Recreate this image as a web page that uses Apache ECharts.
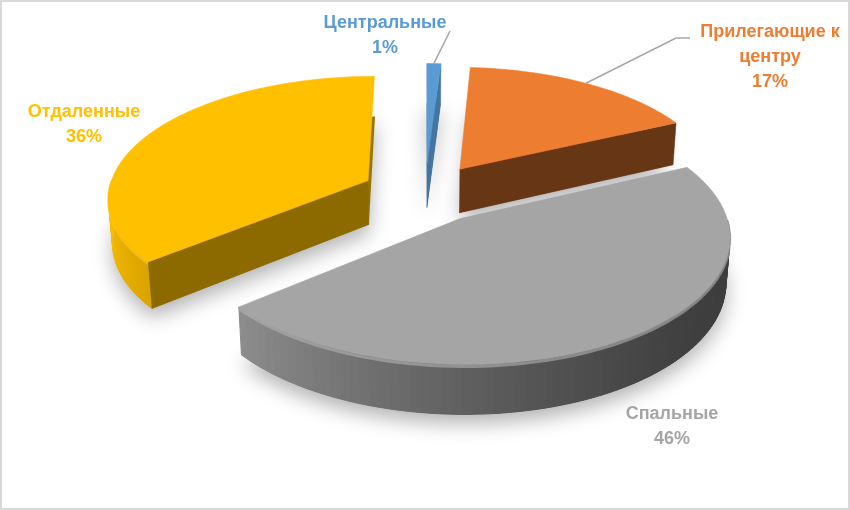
<!DOCTYPE html>
<html>
<head>
<meta charset="utf-8">
<script src="https://cdn.jsdelivr.net/npm/echarts@6.0.0/dist/echarts.min.js"></script>
<style>
  html, body { margin: 0; padding: 0; background: #fff; }
  #chart { width: 850px; height: 510px; }
</style>
</head>
<body>
<div id="chart"></div>
<script>
const categories = ['Центральные', 'Прилегающие к центру', 'Спальные', 'Отдаленные'];
const shares = [1, 17, 46, 36];
const colors = ['#5B9BD5', '#ED7D31', '#A5A5A5', '#FFC000'];

// camera of the pseudo-3D pie: screen centre/focal in px, rest in pie radii
const VIEW = { cx: 425, cy: 193, f: 1815, dist: 6.98, tilt: 27.6, thick: 0.195, explode: 0.245 };
// where each label box sits (px); leader line goes from the slice rim to `line`
const labelPos = [
  { x: 385, y: 36, line: [[450, 31]] },
  { x: 770, y: 57, line: [[676, 38], [690, 38]] },
  { x: 672, y: 427 },
  { x: 84, y: 125 },
];
const LABEL_FONT = 'bold 18px "Liberation Sans", Arial, sans-serif';

const sinT = Math.sin(VIEW.tilt * Math.PI / 180);
const cosT = Math.cos(VIEW.tilt * Math.PI / 180);
const total = shares.reduce((a, b) => a + b, 0);

const startAngles = [];
let acc = 0;
shares.forEach(v => {
  startAngles.push(acc / total * Math.PI * 2);
  acc += v;
});

// paint far slices first
const depthRank = [];
shares
  .map((v, i) => ({ i, z: -Math.cos(startAngles[i] + v / total * Math.PI) }))
  .sort((a, b) => a.z - b.z)
  .forEach((d, r) => { depthRank[d.i] = r; });

function project(X, Y, Z) {
  const yc = Y * cosT - Z * sinT;
  const dep = VIEW.dist - (Y * sinT + Z * cosT);
  return [VIEW.cx + VIEW.f * X / dep, VIEW.cy - VIEW.f * yc / dep];
}

function shade(hex, k) {
  const n = parseInt(hex.slice(1), 16);
  const c = [(n >> 16) & 255, (n >> 8) & 255, n & 255].map(v => {
    const x = k <= 1 ? v * k : v + (255 - v) * (k - 1);
    return Math.max(0, Math.min(255, Math.round(x)));
  });
  return `rgb(${c[0]},${c[1]},${c[2]})`;
}

// wrap long names the way the label box does
function wrapName(s, maxChars = 14) {
  const lines = [];
  s.split(' ').forEach(w => {
    const last = lines[lines.length - 1];
    if (last !== undefined && (last + ' ' + w).length <= maxChars) lines[lines.length - 1] = last + ' ' + w;
    else lines.push(w);
  });
  return lines.join('\n');
}

// rough Excel-like lighting
const wallLight = t => 0.691 - 0.301 * Math.sin(t) + 0.111 * Math.cos(t);
const cutLight = nx => 0.2 + 0.55 * nx;

function renderItem(params, api) {
  const i = params.dataIndex;
  const val = api.value(0);
  const a0 = startAngles[i];
  const a1 = a0 + val / total * Math.PI * 2;
  const m = (a0 + a1) / 2;
  const ox = VIEW.explode * Math.sin(m);
  const oz = -VIEW.explode * Math.cos(m);
  const pt = (t, r, y) => project(ox + r * Math.sin(t), y, oz - r * Math.cos(t));
  const H = -VIEW.thick;
  const color = colors[i];
  const base = depthRank[i] * 10;

  const n = Math.max(2, Math.ceil((a1 - a0) / (Math.PI / 90)));
  const ts = [];
  for (let k = 0; k <= n; k++) ts.push(a0 + (a1 - a0) * k / n);

  const children = [];
  // soft shadow under the slice
  children.push({
    type: 'polygon',
    z2: -10,
    shape: { points: [pt(0, 0, H)].concat(ts.map(t => pt(t, 1, H))) },
    style: { fill: shade(color, 0.6), shadowBlur: 20, shadowColor: 'rgba(0,0,0,0.3)', shadowOffsetY: 9 },
  });
  // outer wall, only the part facing us
  const rim = [];
  for (let k = 0; k < n; k++) {
    const tm = (ts[k] + ts[k + 1]) / 2;
    if (Math.cos(tm) >= 0) continue;
    const fill = shade(color, wallLight(tm));
    children.push({
      type: 'polygon',
      z2: base + 1,
      shape: { points: [pt(ts[k], 1, 0), pt(ts[k + 1], 1, 0), pt(ts[k + 1], 1, H), pt(ts[k], 1, H)] },
      style: { fill, stroke: fill, lineWidth: 1 },
    });
    if (!rim.length) rim.push(pt(ts[k], 1, H * 0.035));
    rim.push(pt(ts[k + 1], 1, H * 0.035));
  }
  // soft bevel highlight along the front edge
  if (rim.length) {
    children.push({
      type: 'polyline',
      z2: base + 2,
      shape: { points: rim },
      style: { stroke: shade(color, 1.15), lineWidth: 3, fill: null, opacity: 0.6 },
    });
  }
  // radial cut faces
  [[a0, -Math.cos(a0), -Math.sin(a0)], [a1, Math.cos(a1), Math.sin(a1)]].forEach(([t, nx, nz]) => {
    if (nz <= 0) return;
    const fill = shade(color, cutLight(nx));
    children.push({
      type: 'polygon',
      z2: base + 2,
      shape: { points: [pt(t, 0, 0), pt(t, 1, 0), pt(t, 1, H), pt(t, 0, H)] },
      style: { fill, stroke: fill, lineWidth: 0.5 },
    });
  });
  // top
  children.push({
    type: 'polygon',
    z2: base + 3,
    shape: { points: [pt(0, 0, 0)].concat(ts.map(t => pt(t, 1, 0))) },
    style: { fill: color, stroke: color, lineWidth: 0.5 },
  });

  // label
  const lp = labelPos[i];
  if (lp.line) {
    children.push({
      type: 'polyline',
      z2: 1000,
      shape: { points: [pt(m, 1, 0)].concat(lp.line) },
      style: { stroke: '#A6A6A6', lineWidth: 1.5, fill: null },
    });
  }
  children.push({
    type: 'text',
    z2: 1001,
    style: {
      text: wrapName(categories[i]) + '\n' + Math.round(val / total * 100) + '%',
      x: lp.x,
      y: lp.y,
      align: 'center',
      verticalAlign: 'middle',
      font: LABEL_FONT,
      lineHeight: 25,
      fill: color,
    },
  });

  return { type: 'group', children };
}

const chart = echarts.init(document.getElementById('chart'), null, { renderer: 'canvas' });
chart.setOption({
  animation: false,
  graphic: [
    {
      type: 'rect',
      shape: { x: 1, y: 1, width: 848, height: 508 },
      style: { fill: 'none', stroke: '#D9D9D9', lineWidth: 2 },
      z: 100,
    },
  ],
  series: [
    {
      type: 'custom',
      coordinateSystem: 'none',
      renderItem,
      data: shares.map((v, i) => ({ name: categories[i], value: v })),
    },
  ],
});
window.addEventListener('resize', chart.resize);
</script>
</body>
</html>
